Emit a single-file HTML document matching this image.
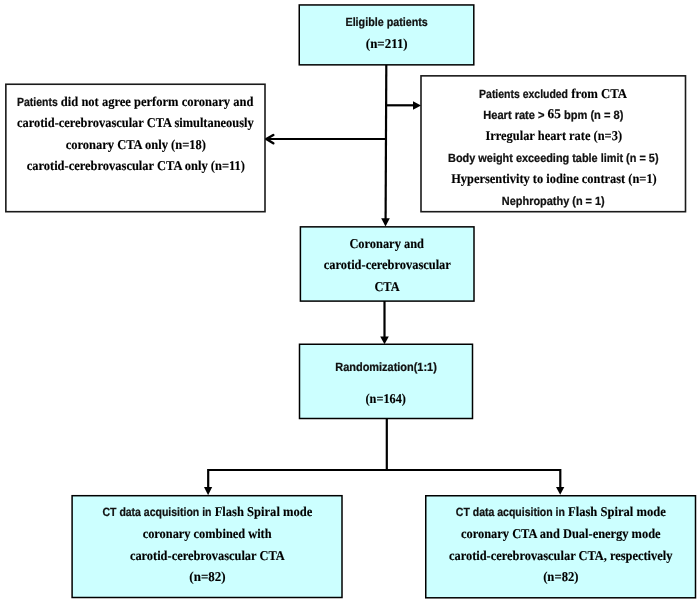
<!DOCTYPE html>
<html><head><meta charset="utf-8"><style>
html,body{margin:0;padding:0;background:#fff;}
body{width:700px;height:602px;overflow:hidden;}
svg{display:block;will-change:transform;text-rendering:geometricPrecision;}
.serif{font-family:"Liberation Serif", serif;font-weight:bold;font-size:12.8px;fill:#000;stroke:#000;stroke-width:0.12px;}
.sans{font-family:"Liberation Sans", sans-serif;font-weight:bold;font-size:10.7px;fill:#111;stroke:#111;stroke-width:0.22px;}
</style></head><body>
<svg width="700" height="602" viewBox="0 0 700 602">
<rect x="299.25" y="4.95" width="174.55" height="59.90" fill="#ccffff" stroke="#000" stroke-width="1.5"/>
<rect x="5.85" y="84.25" width="259.15" height="127.45" fill="#fff" stroke="#1a1a1a" stroke-width="1.6"/>
<rect x="421.0" y="75.85" width="264.50" height="135.85" fill="#fff" stroke="#1a1a1a" stroke-width="1.6"/>
<rect x="300.4" y="226.85" width="173.60" height="74.25" fill="#ccffff" stroke="#000" stroke-width="1.5"/>
<rect x="299.5" y="344.25" width="173.00" height="74.25" fill="#ccffff" stroke="#000" stroke-width="1.5"/>
<rect x="72.1" y="495.7" width="269.90" height="101.80" fill="#ccffff" stroke="#000" stroke-width="1.5"/>
<rect x="425.75" y="495.75" width="269.75" height="102.05" fill="#ccffff" stroke="#000" stroke-width="1.5"/>
<line x1="386.3" y1="65" x2="385.6" y2="219" stroke="#000" stroke-width="2.2"/>
<line x1="386" y1="105.3" x2="414" y2="105.3" stroke="#000" stroke-width="2.2"/>
<polygon points="413,101.2 413,109.7 421,105.4" fill="#000"/>
<line x1="386" y1="139" x2="267" y2="139" stroke="#000" stroke-width="2.2"/>
<polyline points="273.3,135 266.3,139 273.3,143.3" fill="none" stroke="#000" stroke-width="2.5" stroke-linecap="round" stroke-linejoin="round"/>
<polygon points="381.2,218.2 389.8,218.2 385.5,226.5" fill="#000"/>
<line x1="384.5" y1="301" x2="384.5" y2="338" stroke="#000" stroke-width="2.2"/>
<polygon points="380.2,336.4 388.8,336.4 384.5,344.3" fill="#000"/>
<line x1="386.8" y1="418.5" x2="386.8" y2="470" stroke="#000" stroke-width="2.2"/>
<polyline points="208.2,488 208.2,470 560.3,470 560.3,488" fill="none" stroke="#000" stroke-width="2.2"/>
<polygon points="204,487 212.2,487 208.1,495.3" fill="#000"/>
<polygon points="556,486.9 564.3,486.9 560.2,494.8" fill="#000"/>
<text transform="translate(0 26.05) scale(1 1.12)" x="345.48" y="0" class="sans" textLength="82.36" lengthAdjust="spacingAndGlyphs" xml:space="preserve">Eligible patients</text>
<text transform="translate(0 47.80) scale(1 1.05)" x="365.84" y="0" class="serif" textLength="41.82" lengthAdjust="spacingAndGlyphs" xml:space="preserve">(n=211)</text>
<text transform="translate(0 105.65) scale(1 1.12)" x="17.10" y="0" class="sans" textLength="40.63" lengthAdjust="spacingAndGlyphs" xml:space="preserve">Patients</text>
<text transform="translate(0 105.50) scale(1 1.05)" x="57.73" y="0" class="serif" textLength="195.71" lengthAdjust="spacingAndGlyphs" xml:space="preserve"> did not agree perform coronary and</text>
<text transform="translate(0 127.10) scale(1 1.05)" x="16.98" y="0" class="serif" textLength="236.74" lengthAdjust="spacingAndGlyphs" xml:space="preserve">carotid-cerebrovascular CTA simultaneously</text>
<text transform="translate(0 149.00) scale(1 1.05)" x="65.68" y="0" class="serif" textLength="140.26" lengthAdjust="spacingAndGlyphs" xml:space="preserve">coronary CTA only (n=18)</text>
<text transform="translate(0 170.30) scale(1 1.05)" x="26.68" y="0" class="serif" textLength="218.26" lengthAdjust="spacingAndGlyphs" xml:space="preserve">carotid-cerebrovascular CTA only (n=11)</text>
<text transform="translate(0 97.65) scale(1 1.12)" x="479.10" y="0" class="sans" textLength="88.93" lengthAdjust="spacingAndGlyphs" xml:space="preserve">Patients excluded</text>
<text transform="translate(0 97.50) scale(1 1.05)" x="568.03" y="0" class="serif" textLength="59.07" lengthAdjust="spacingAndGlyphs" xml:space="preserve"> from CTA</text>
<text transform="translate(0 118.55) scale(1 1.12)" x="483.26" y="0" class="sans" textLength="64.36" lengthAdjust="spacingAndGlyphs" xml:space="preserve">Heart rate &gt; </text>
<text transform="translate(0 118.40) scale(1 1.05)" x="547.62" y="0" class="serif" textLength="13.25" lengthAdjust="spacingAndGlyphs" xml:space="preserve">65</text>
<text transform="translate(0 118.55) scale(1 1.12)" x="560.87" y="0" class="sans" textLength="62.48" lengthAdjust="spacingAndGlyphs" xml:space="preserve"> bpm (n = 8)</text>
<text transform="translate(0 139.90) scale(1 1.05)" x="485.48" y="0" class="serif" textLength="136.56" lengthAdjust="spacingAndGlyphs" xml:space="preserve">Irregular heart rate (n=3)</text>
<text transform="translate(0 161.75) scale(1 1.12)" x="448.07" y="0" class="sans" textLength="210.47" lengthAdjust="spacingAndGlyphs" xml:space="preserve">Body weight exceeding table limit (n = 5)</text>
<text transform="translate(0 182.60) scale(1 1.05)" x="451.19" y="0" class="serif" textLength="205.56" lengthAdjust="spacingAndGlyphs" xml:space="preserve">Hypersentivity to iodine contrast (n=1)</text>
<text transform="translate(0 205.05) scale(1 1.12)" x="501.87" y="0" class="sans" textLength="102.87" lengthAdjust="spacingAndGlyphs" xml:space="preserve">Nephropathy (n = 1)</text>
<text transform="translate(0 247.80) scale(1 1.05)" x="349.40" y="0" class="serif" textLength="74.54" lengthAdjust="spacingAndGlyphs" xml:space="preserve">Coronary and</text>
<text transform="translate(0 268.70) scale(1 1.05)" x="323.78" y="0" class="serif" textLength="127.09" lengthAdjust="spacingAndGlyphs" xml:space="preserve">carotid-cerebrovascular</text>
<text transform="translate(0 290.90) scale(1 1.05)" x="374.42" y="0" class="serif" textLength="25.17" lengthAdjust="spacingAndGlyphs" xml:space="preserve">CTA</text>
<text transform="translate(0 370.75) scale(1 1.12)" x="335.27" y="0" class="sans" textLength="101.58" lengthAdjust="spacingAndGlyphs" xml:space="preserve">Randomization(1:1)</text>
<text transform="translate(0 402.70) scale(1 1.05)" x="365.46" y="0" class="serif" textLength="40.48" lengthAdjust="spacingAndGlyphs" xml:space="preserve">(n=164)</text>
<text transform="translate(0 516.05) scale(1 1.12)" x="102.47" y="0" class="sans" textLength="109.05" lengthAdjust="spacingAndGlyphs" xml:space="preserve">CT data acquisition in</text>
<text transform="translate(0 515.90) scale(1 1.05)" x="211.52" y="0" class="serif" textLength="100.81" lengthAdjust="spacingAndGlyphs" xml:space="preserve"> Flash Spiral mode</text>
<text transform="translate(0 538.10) scale(1 1.05)" x="142.68" y="0" class="serif" textLength="128.91" lengthAdjust="spacingAndGlyphs" xml:space="preserve">coronary combined with</text>
<text transform="translate(0 559.50) scale(1 1.05)" x="129.88" y="0" class="serif" textLength="154.81" lengthAdjust="spacingAndGlyphs" xml:space="preserve">carotid-cerebrovascular CTA</text>
<text transform="translate(0 580.90) scale(1 1.05)" x="189.33" y="0" class="serif" textLength="36.34" lengthAdjust="spacingAndGlyphs" xml:space="preserve">(n=82)</text>
<text transform="translate(0 516.05) scale(1 1.12)" x="455.87" y="0" class="sans" textLength="109.05" lengthAdjust="spacingAndGlyphs" xml:space="preserve">CT data acquisition in</text>
<text transform="translate(0 515.90) scale(1 1.05)" x="564.92" y="0" class="serif" textLength="100.81" lengthAdjust="spacingAndGlyphs" xml:space="preserve"> Flash Spiral mode</text>
<text transform="translate(0 538.10) scale(1 1.05)" x="460.98" y="0" class="serif" textLength="199.64" lengthAdjust="spacingAndGlyphs" xml:space="preserve">coronary CTA and Dual-energy mode</text>
<text transform="translate(0 559.50) scale(1 1.05)" x="448.98" y="0" class="serif" textLength="223.44" lengthAdjust="spacingAndGlyphs" xml:space="preserve">carotid-cerebrovascular CTA, respectively</text>
<text transform="translate(0 580.90) scale(1 1.05)" x="543.14" y="0" class="serif" textLength="35.41" lengthAdjust="spacingAndGlyphs" xml:space="preserve">(n=82)</text>
</svg>
</body></html>
